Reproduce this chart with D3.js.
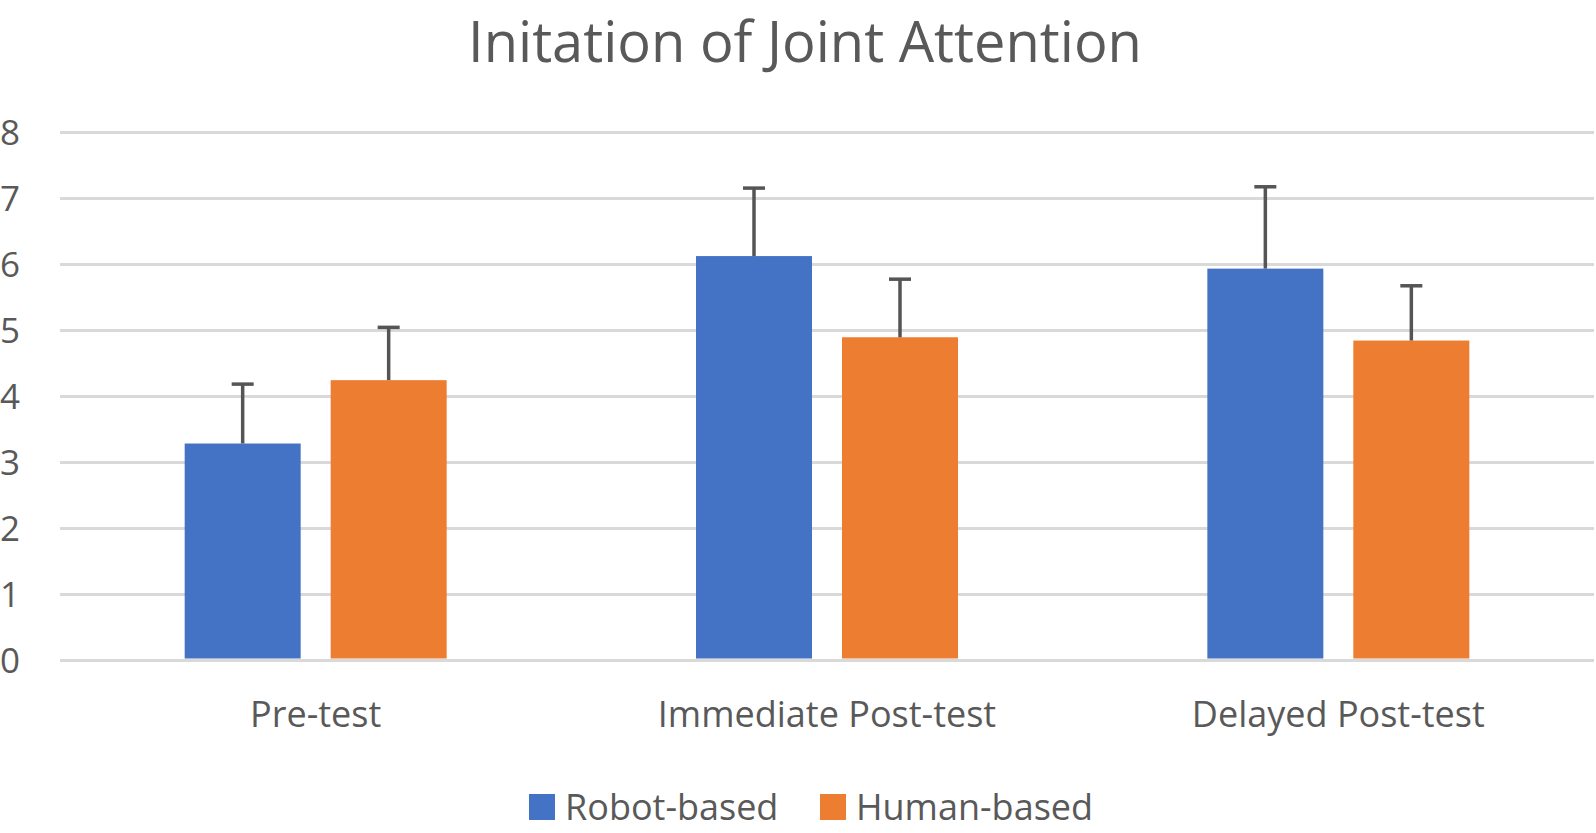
<!DOCTYPE html>
<html>
<head>
<meta charset="utf-8">
<script src="https://cdn.jsdelivr.net/npm/d3@7"></script>
<style>
  body { margin: 0; background: #fff; }
  text { font-family: "Open Sans", "Noto Sans", sans-serif; fill: #595959; }
</style>
</head>
<body>
<div id="chart"></div>
<script>
var categories = ["Pre-test", "Immediate Post-test", "Delayed Post-test"];
var seriesNames = ["Robot-based", "Human-based"];
var robotMeans = [3.28, 6.12, 5.93];
var robotErrors = [0.90, 1.03, 1.24];
var humanMeans = [4.24, 4.89, 4.84];
var humanErrors = [0.80, 0.88, 0.83];
var yTicks = [0, 1, 2, 3, 4, 5, 6, 7, 8];
var chartTitle = "Initation of Joint Attention";

var width = 1596;
var height = 833;
var colors = ["#4472C4", "#ED7D31"];

var rows = categories.map(function(c, i) {
  return {
    cat: c,
    bars: [
      { s: seriesNames[0], v: robotMeans[i], e: robotErrors[i] },
      { s: seriesNames[1], v: humanMeans[i], e: humanErrors[i] }
    ]
  };
});

/* Scales */
var x0 = d3.scaleBand()
  .domain(categories)
  .range([60, 1594]);

var x1 = d3.scaleBand()
  .domain(seriesNames)
  .range([0, x0.bandwidth()])
  .paddingInner(0.2055)
  .paddingOuter(0.854);

var y = d3.scaleLinear()
  .domain([0, 8])
  .range([660, 132]);

var color = d3.scaleOrdinal().domain(seriesNames).range(colors);

var svg = d3.select("#chart").append("svg")
  .attr("width", width)
  .attr("height", height);

/* Title */
svg.append("text")
  .attr("x", 805)
  .attr("y", 62)
  .attr("text-anchor", "middle")
  .style("font-size", "56px")
  .text(chartTitle);

/* Gridlines + y labels */
var yAxis = d3.axisLeft(y).tickValues(yTicks).tickSize(-(1594 - 60)).tickPadding(0);
var gy = svg.append("g")
  .attr("class", "y axis")
  .attr("transform", "translate(60,0)")
  .call(yAxis);
gy.select(".domain").remove();
gy.selectAll(".tick line")
  .attr("stroke", "#D9D9D9")
  .attr("stroke-width", 3);
gy.selectAll(".tick text")
  .attr("x", -60)
  .attr("dy", "0.36em")
  .attr("text-anchor", "start")
  .style("font-size", "35px")
  .style("font-family", "'Open Sans', sans-serif")
  .attr("fill", "#595959");

/* Bars */
var groups = svg.append("g").selectAll("g")
  .data(rows).enter()
  .append("g")
  .attr("transform", d => `translate(${x0(d.cat)},0)`);

groups.selectAll("rect")
  .data(d => d.bars).enter()
  .append("rect")
  .attr("x", d => x1(d.s))
  .attr("y", d => y(d.v))
  .attr("width", x1.bandwidth())
  .attr("height", d => y(0) - y(d.v) - 1.5)
  .attr("fill", d => color(d.s));

/* Error bars (positive only) */
var eb = groups.selectAll(".err")
  .data(d => d.bars).enter()
  .append("g")
  .attr("class", "err")
  .attr("stroke", "#555555")
  .attr("stroke-width", 3.5);

eb.append("line")
  .attr("x1", d => x1(d.s) + x1.bandwidth() / 2)
  .attr("x2", d => x1(d.s) + x1.bandwidth() / 2)
  .attr("y1", d => y(d.v))
  .attr("y2", d => y(d.v + d.e));

eb.append("line")
  .attr("x1", d => x1(d.s) + x1.bandwidth() / 2 - 11)
  .attr("x2", d => x1(d.s) + x1.bandwidth() / 2 + 11)
  .attr("y1", d => y(d.v + d.e))
  .attr("y2", d => y(d.v + d.e));

/* Category labels */
var xAxis = d3.axisBottom(x0).tickSize(0).tickPadding(0);
var gx = svg.append("g")
  .attr("class", "x axis")
  .attr("transform", "translate(0,727)")
  .call(xAxis);
gx.select(".domain").remove();
gx.selectAll(".tick text")
  .attr("y", 0)
  .attr("dy", 0)
  .style("font-size", "36px")
  .style("font-family", "'Open Sans', sans-serif")
  .attr("fill", "#595959");

/* Legend */
var legendX = [529, 820];
var legend = svg.append("g").selectAll("g")
  .data(seriesNames).enter()
  .append("g")
  .attr("transform", (d, i) => `translate(${legendX[i]},794)`);

legend.append("rect")
  .attr("width", 26)
  .attr("height", 26)
  .attr("fill", d => color(d));

legend.append("text")
  .attr("x", 36)
  .attr("y", 26)
  .style("font-size", "36px")
  .text(d => d);
</script>
</body>
</html>
